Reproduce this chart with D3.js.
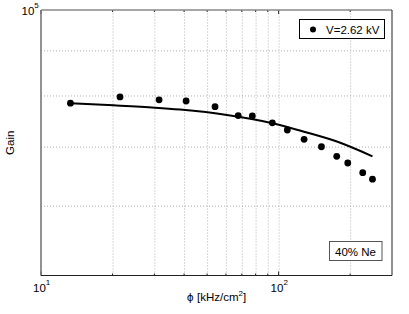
<!DOCTYPE html>
<html>
<head>
<meta charset="utf-8">
<script src="https://cdn.jsdelivr.net/npm/d3@7"></script>
<style>
body { margin: 0; background: #fff; }
text { font-family: "Liberation Sans", Arial, Helvetica, sans-serif; fill: #000; }
</style>
</head>
<body>
<svg id="pic" width="409" height="314"></svg>
<script>
// measured points
var phi = [13.3, 21.5, 31.4, 40.8, 54.0, 67.6, 77.5, 94.1, 108.8, 128, 151.4, 175.6, 195.4, 225.9, 248.3];
var gain = [78400, 79700, 79100, 78850, 77700, 75900, 75850, 74480, 73100, 71340, 69980, 68250, 67070, 65400, 64300];

// fitted curve
var fitPhi = [13.3, 20.2, 30.2, 38.5, 60.6, 94.1, 128, 177, 248.3];
var fitGain = [78400, 77980, 77500, 77100, 76030, 74420, 72780, 70890, 68250];

var xGrid = [20, 30, 40, 50, 60, 70, 80, 90, 100, 200];
var yGrid = [60000, 70000, 80000, 90000];
var xLabels = [10, 100];
var yLabels = [100000];

var svg = d3.select("#pic");
var pLeft = 41, pRight = 392, pTop = 10, pBottom = 275.5;

var x = d3.scaleLog().domain([10, 300]).range([pLeft, pRight]);
var y = d3.scaleLog().domain([50000, 100000]).range([pBottom, pTop]);

// grid
svg.append("g")
    .attr("transform", "translate(0," + pBottom + ")")
    .call(d3.axisBottom(x).tickValues(xGrid).tickSize(-(pBottom - pTop)).tickFormat(""))
    .call(function(g){
        g.select(".domain").remove();
        g.selectAll("line").attr("stroke", "#b0b0b0").attr("stroke-dasharray", "1,2");
    });
svg.append("g")
    .attr("transform", "translate(" + pLeft + ",0)")
    .call(d3.axisLeft(y).tickValues(yGrid).tickSize(-(pRight - pLeft)).tickFormat(""))
    .call(function(g){
        g.select(".domain").remove();
        g.selectAll("line").attr("stroke", "#b0b0b0").attr("stroke-dasharray", "1,2");
    });

// small inside ticks
var xMinor = [20, 30, 40, 50, 60, 70, 80, 90, 200];
xMinor.concat(xLabels).forEach(function(v){
    var len = xLabels.indexOf(v) >= 0 ? 4 : 2;
    svg.append("line").attr("x1", x(v)).attr("x2", x(v))
        .attr("y1", pBottom).attr("y2", pBottom - len).attr("stroke", "#222");
    svg.append("line").attr("x1", x(v)).attr("x2", x(v))
        .attr("y1", pTop).attr("y2", pTop + len).attr("stroke", "#222");
});

// frame
svg.append("line").attr("x1", pLeft).attr("x2", pLeft).attr("y1", pTop).attr("y2", pBottom)
    .attr("stroke", "#777").attr("stroke-width", 1.6);
svg.append("line").attr("x1", pLeft).attr("x2", pRight).attr("y1", pTop).attr("y2", pTop)
    .attr("stroke", "#888").attr("stroke-width", 1.4);
svg.append("line").attr("x1", pRight).attr("x2", pRight).attr("y1", pTop).attr("y2", pBottom)
    .attr("stroke", "#222").attr("stroke-width", 1);
svg.append("line").attr("x1", pLeft).attr("x2", pRight).attr("y1", pBottom).attr("y2", pBottom)
    .attr("stroke", "#222").attr("stroke-width", 1.2);

// tick labels
xLabels.forEach(function(v){
    var t = svg.append("text").attr("x", x(v) - 8).attr("y", 292).attr("font-size", 11.5);
    t.append("tspan").text("10");
    t.append("tspan").attr("dy", -7).attr("font-size", 8).text(Math.round(Math.log10(v)));
});
yLabels.forEach(function(v){
    var t = svg.append("text").attr("x", 21.5).attr("y", y(v) + 4.5).attr("font-size", 11.5);
    t.append("tspan").text("10");
    t.append("tspan").attr("dy", -7).attr("font-size", 8).text(Math.round(Math.log10(v)));
});

// axis titles
var xt = svg.append("text").attr("x", (pLeft + pRight) / 2).attr("y", 301)
    .attr("text-anchor", "middle").attr("font-size", 11.5);
xt.append("tspan").attr("font-family", "DejaVu Sans").attr("font-size", 10.5).text("\u03d5");
xt.append("tspan").text(" [kHz/cm");
xt.append("tspan").attr("dy", -5).attr("font-size", 8).text("2");
xt.append("tspan").attr("dy", 5).text("]");

svg.append("text")
    .attr("transform", "translate(14," + (pTop + pBottom) / 2 + ") rotate(-90)")
    .attr("text-anchor", "middle").attr("font-size", 11.5).text("Gain");

// fit curve
var fit = fitPhi.map(function(p, i){ return [p, fitGain[i]]; });
svg.append("path").datum(fit)
    .attr("fill", "none").attr("stroke", "#000").attr("stroke-width", 2)
    .attr("d", d3.line().curve(d3.curveMonotoneX)
        .x(function(d){ return x(d[0]); })
        .y(function(d){ return y(d[1]); }));

// points
svg.selectAll("circle.pt").data(phi).enter().append("circle")
    .attr("class", "pt")
    .attr("cx", function(d){ return x(d); })
    .attr("cy", function(d, i){ return y(gain[i]); })
    .attr("r", 3.4).attr("fill", "#000");

// legend
svg.append("rect").attr("x", 299.5).attr("y", 19.5).attr("width", 85).attr("height", 19)
    .attr("fill", "#fff").attr("stroke", "#000");
svg.append("circle").attr("cx", 313).attr("cy", 29.5).attr("r", 3).attr("fill", "#000");
svg.append("text").attr("x", 326).attr("y", 34).attr("font-size", 11.5).text("V=2.62 kV");

// annotation
svg.append("rect").attr("x", 329.5).attr("y", 241.5).attr("width", 52.5).attr("height", 19)
    .attr("fill", "#fff").attr("stroke", "#555");
svg.append("text").attr("x", 355.5).attr("y", 255.5).attr("text-anchor", "middle")
    .attr("font-size", 11.5).text("40% Ne");
</script>
</body>
</html>
